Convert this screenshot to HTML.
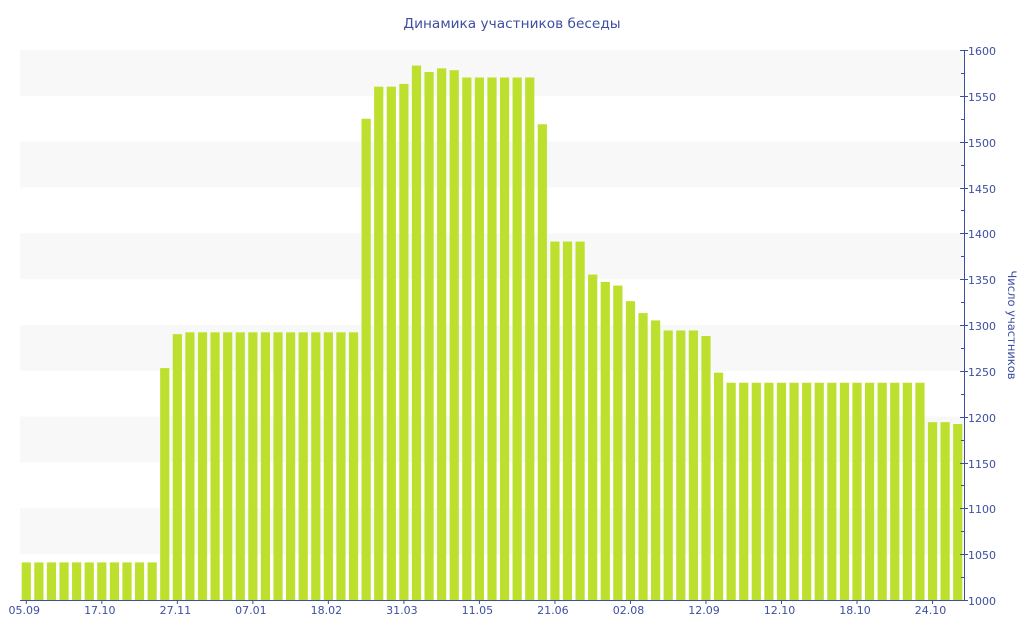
<!DOCTYPE html>
<html><head><meta charset="utf-8"><style>
html,body{margin:0;padding:0;background:#fff;}
svg{display:block;font-family:"DejaVu Sans","Liberation Sans",sans-serif;}
</style></head><body>
<svg id="c" width="1024" height="640" viewBox="0 0 1024 640" xmlns="http://www.w3.org/2000/svg">
<text x="512" y="28" text-anchor="middle" font-size="13.7" fill="#3d4f9f">Динамика участников беседы</text>
<g id="bands"></g><g id="bars"></g><g id="axes"></g>
<text transform="translate(1008,325) rotate(90)" text-anchor="middle" font-size="11.5" fill="#3d4f9f">Число участников</text>
</svg>
<script>
var ns="http://www.w3.org/2000/svg";
function el(p,t,a,txt){var e=document.createElementNS(ns,t);for(var k in a)e.setAttribute(k,a[k]);if(txt!==undefined)e.textContent=txt;document.getElementById(p).appendChild(e);}
function Y(v){return 600-(v-1000)*550/600;}
[1550,1450,1350,1250,1150,1050].forEach(function(v){el("bands","rect",{x:20,y:Y(v+50),width:944,height:Y(v)-Y(v+50),fill:"#f8f8f8"});});
var vals=[];
for(var i=0;i<11;i++)vals.push(1041);
vals.push(1253,1290);
for(i=0;i<14;i++)vals.push(1292);
vals.push(1525,1560,1560,1563,1583,1576,1580,1578,1570,1570,1570,1570,1570,1570,1519,1391,1391,1391,1355,1347,1343,1326,1313,1305,1294,1294,1294,1288,1248);
for(i=0;i<16;i++)vals.push(1237);
vals.push(1194,1194,1192);
var p=944/75;
vals.forEach(function(v,i){var cx=20+(i+0.5)*p;el("bars","rect",{x:(cx-4.6).toFixed(2),y:Y(v).toFixed(2),width:9.2,height:(600-Y(v)).toFixed(2),fill:"#bde02e"});});
el("axes","line",{x1:20,y1:600.5,x2:964,y2:600.5,stroke:"#3d4f9f","stroke-width":1});
el("axes","line",{x1:964.5,y1:50,x2:964.5,y2:600,stroke:"#3d4f9f","stroke-width":1});
for(var v=1000;v<=1600;v+=25){var y=Math.round(Y(v))+0.5;
 if(v%50==0){el("axes","line",{x1:960,y1:y,x2:968,y2:y,stroke:"#3d4f9f"});el("axes","text",{x:968,y:y+4.5,"font-size":11,fill:"#3d4f9f"},String(v));}
 else el("axes","line",{x1:961,y1:y,x2:964,y2:y,stroke:"#3d4f9f"});}
var labs=["05.09","17.10","27.11","07.01","18.02","31.03","11.05","21.06","02.08","12.09","12.10","18.10","24.10"];
labs.forEach(function(l,j){var cx=20+(j*6+0.5)*p;el("axes","line",{x1:cx,y1:600,x2:cx,y2:604,stroke:"#3d4f9f"});el("axes","text",{x:cx-2,y:614,"font-size":11,fill:"#3d4f9f","text-anchor":"middle"},l);});
</script>
</body></html>
